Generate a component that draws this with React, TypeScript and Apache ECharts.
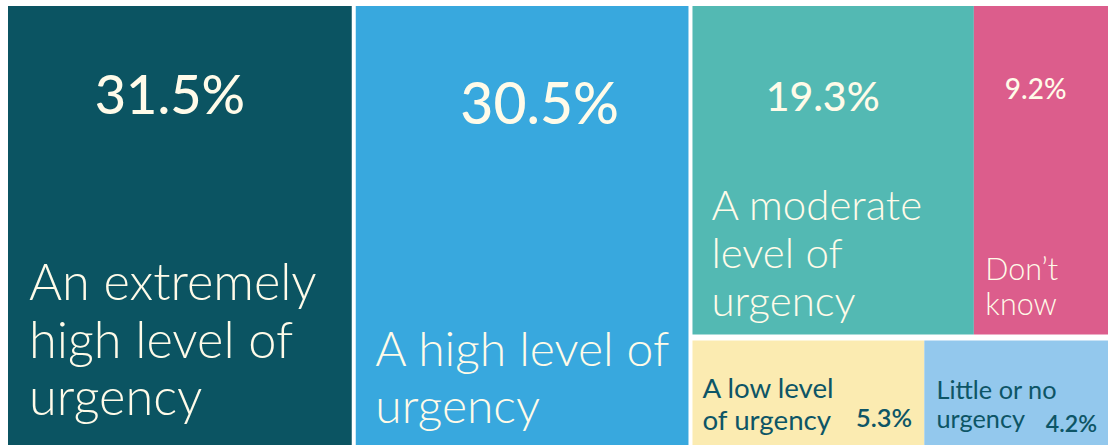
import React, { useEffect, useRef } from "react";
import * as echarts from "echarts";

// ---- data ----
const names = [
  "An extremely high level of urgency",
  "A high level of urgency",
  "A moderate level of urgency",
  "Don’t know",
  "A low level of urgency",
  "Little or no urgency",
];
const values = [31.5, 30.5, 19.3, 9.2, 5.3, 4.2];
const labelLines = [
  ["An extremely", "high level of", "urgency"],
  ["A high level of", "urgency"],
  ["A moderate", "level of", "urgency"],
  ["Don’t", "know"],
  ["A low level", "of urgency"],
  ["Little or no", "urgency"],
];
// grouping of the cells: first two stand alone, the rest form a 2x2 block
const topRowIdx = [2, 3];
const bottomRowIdx = [4, 5];

// ---- styles ----
const colors = ["#0b5462", "#38a8de", "#53b9b3", "#dc5d8c", "#fbebb1", "#93c8ed"];
const LIGHT = "#fffbe9";
const DARK = "#0d5566";
const FONT = "Lato";

type Big = {
  kind: "big";
  pt: number; l: number; r: number; x: number;
  pSize: number; pLH: number; spacer: number; tSize: number; tLH: number;
};
type Small = {
  kind: "small";
  pt: number; l: number; r: number;
  tSize: number; tLH: number; vSize: number; vPad: number[];
};
const labelLayouts: (Big | Small)[] = [
  { kind: "big", pt: 57, l: 21, r: 41, x: 0, pSize: 54, pLH: 60, spacer: 128.75, tSize: 50.5, tLH: 57.5 },
  { kind: "big", pt: 65.5, l: 19.5, r: 0, x: 15.5, pSize: 57, pLH: 60, spacer: 187.25, tSize: 48, tLH: 57 },
  { kind: "big", pt: 67.5, l: 19, r: 40, x: 0, pSize: 41, pLH: 44, spacer: 62.5, tSize: 42, tLH: 48 },
  { kind: "big", pt: 66, l: 11.5, r: 22, x: 0, pSize: 28, pLH: 32, spacer: 146.5, tSize: 30.5, tLH: 35 },
  { kind: "small", pt: 31, l: 10, r: 12.3, tSize: 27.7, tLH: 32, vSize: 25.4, vPad: [0, 0, 6, 0] },
  { kind: "small", pt: 33.5, l: 12.2, r: 11, tSize: 25.3, tLH: 29, vSize: 23.2, vPad: [11, 0, 0, 0] },
];

function leaf(i: number) {
  const lay = labelLayouts[i];
  const pct = values[i].toFixed(1) + "%";
  let label: any;
  if (lay.kind === "big") {
    const str =
      (lay.x > 0 ? "{off|}" : "") +
      `{p|${pct}}\n{s|}\n` +
      labelLines[i].map((t) => `{t|${t}}`).join("\n");
    label = {
      show: true,
      position: "insideTopLeft",
      distance: 0,
      padding: [lay.pt, lay.r, 0, lay.l],
      overflow: "none",
      formatter: () => str,
      rich: {
        off: { width: lay.x, align: "left", lineHeight: lay.pLH },
        p: {
          fontFamily: FONT, fontSize: lay.pSize, fontWeight: 500, color: LIGHT,
          lineHeight: lay.pLH, align: "center",
        },
        s: { lineHeight: lay.spacer, fontSize: 1 },
        t: {
          fontFamily: FONT, fontSize: lay.tSize, fontWeight: 300, color: LIGHT,
          lineHeight: lay.tLH, align: "left",
        },
      },
    };
  } else {
    const lines = labelLines[i];
    const str =
      lines.slice(0, -1).map((t) => `{t|${t}}`).join("\n") +
      `\n{t|${lines[lines.length - 1]}}{v|${pct}}`;
    label = {
      show: true,
      position: "insideTopLeft",
      distance: 0,
      padding: [lay.pt, lay.r, 0, lay.l],
      overflow: "none",
      formatter: () => str,
      rich: {
        t: {
          fontFamily: FONT, fontSize: lay.tSize, fontWeight: 400, color: DARK,
          lineHeight: lay.tLH, align: "left",
        },
        v: {
          fontFamily: FONT, fontSize: lay.vSize, fontWeight: 600, color: DARK,
          lineHeight: lay.tLH, align: "right", padding: lay.vPad,
        },
      },
    };
  }
  return {
    name: names[i],
    value: values[i],
    itemStyle: { color: colors[i], borderWidth: 0 },
    label,
  };
}

export default function App() {
  const ref = useRef<HTMLDivElement>(null);
  useEffect(() => {
    if (!ref.current) return;
    const chart = echarts.init(ref.current, null, { renderer: "svg" });
    const data = [
      leaf(0),
      leaf(1),
      {
        name: "rest",
        itemStyle: { gapWidth: 6, borderWidth: 0, borderColor: "#fff" },
        children: [
          {
            name: "top",
            itemStyle: { gapWidth: 0, borderWidth: 0 },
            children: topRowIdx.map(leaf),
          },
          {
            name: "bottom",
            itemStyle: { gapWidth: 0, borderWidth: 0 },
            children: bottomRowIdx.map(leaf),
          },
        ],
      },
    ];
    chart.setOption({
      animation: false,
      series: [
        {
          type: "treemap",
          left: 8,
          top: 6,
          width: 1100,
          height: 440,
          sort: false,
          squareRatio: 1,
          roam: false,
          nodeClick: false,
          breadcrumb: { show: false },
          emphasis: { disabled: true },
          itemStyle: { gapWidth: 4, borderWidth: 0, borderColor: "#fff" },
          upperLabel: { show: false },
          data,
        },
      ],
    });
    return () => chart.dispose();
  }, []);
  return (
    <div
      ref={ref}
      style={{ position: "absolute", left: 0, top: 0, width: 1114, height: 445, background: "#fff" }}
    />
  );
}
